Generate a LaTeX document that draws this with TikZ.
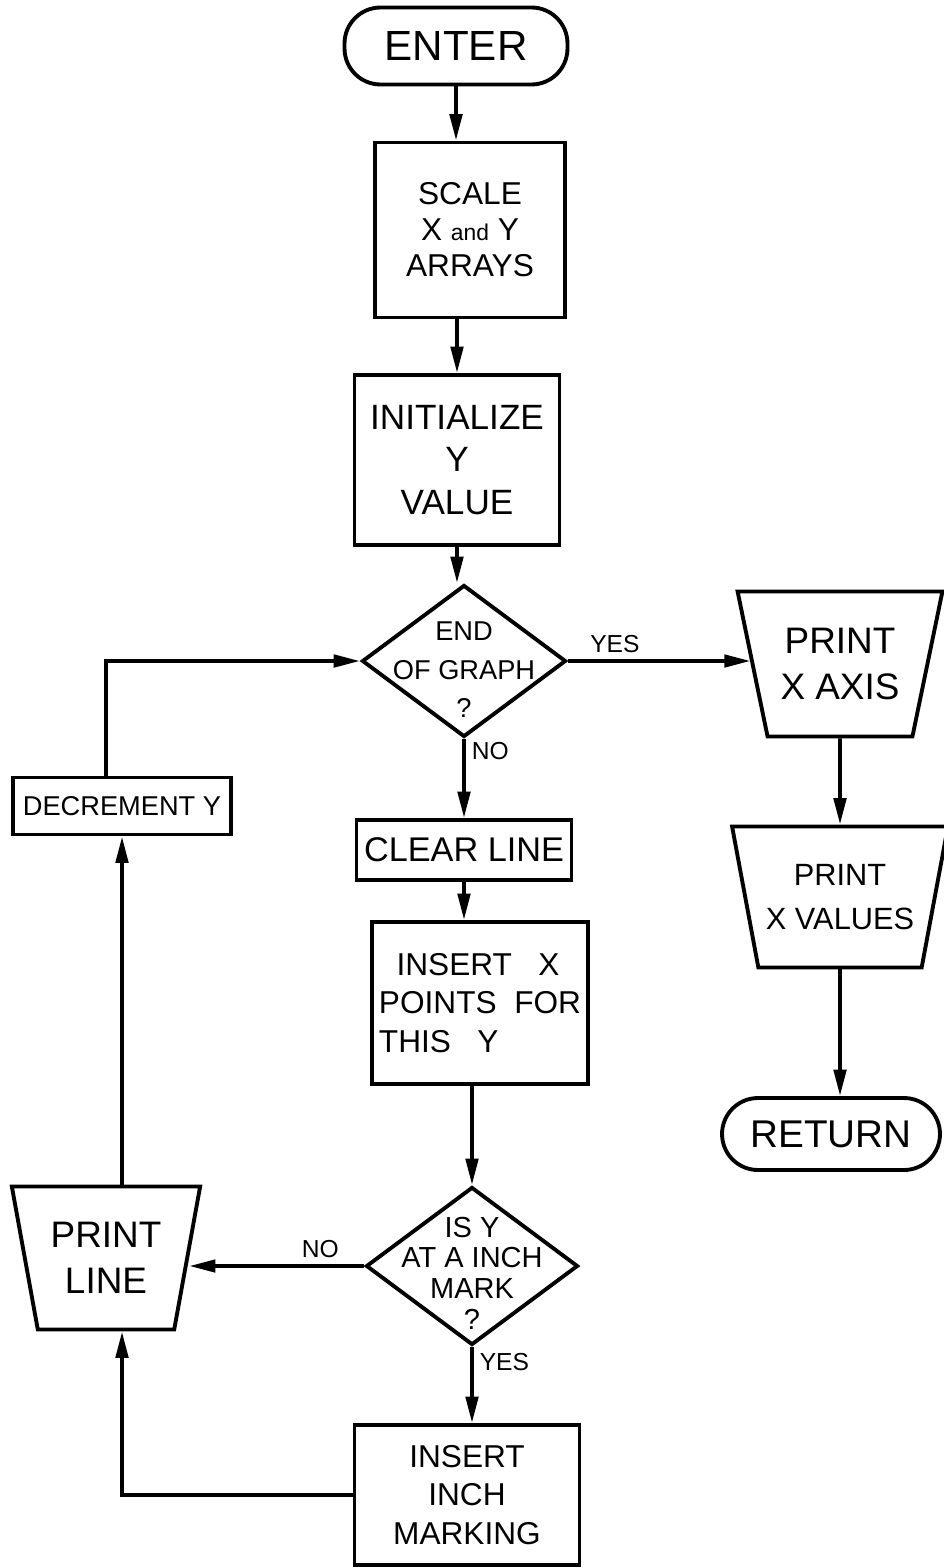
\documentclass[tikz,border=0pt]{standalone}
\usepackage{fontspec}
\setmainfont{Liberation Sans}
\usetikzlibrary{shapes.geometric,arrows.meta}

\begin{document}
\begin{tikzpicture}[x=0.02cm, y=-0.02cm, line width=2.2pt,
  box/.style={draw, rectangle, align=center, inner sep=0pt},
  term/.style={draw, rectangle, rounded corners=0.72cm, inner sep=0pt},
  dec/.style={draw, diamond, inner sep=0pt},
  outp/.style={draw, trapezium, trapezium stretches=true, align=center, inner sep=0pt},
  txt/.style={align=center},
  lbl/.style={font=\fontsize{14}{16}\selectfont},
  arr/.style={-{Triangle[length=15pt,width=7pt]}}]

\useasboundingbox (0,0) rectangle (943,1568);

% Middle column
\node[term, minimum width=4.46cm, minimum height=1.54cm,
      font=\fontsize{24}{28}\selectfont] (enter) at (456,46) {ENTER};          % Start
\node[box, minimum width=3.8cm, minimum height=3.5cm,
      font=\fontsize{18}{20.5}\selectfont] (scale) at (470,230)
      {SCALE\\X {\fontsize{13}{14}\selectfont and} Y\\ARRAYS};                 % Scale
\node[box, minimum width=4.1cm, minimum height=3.4cm,
      font=\fontsize{20}{24}\selectfont] (init) at (457,460)
      {INITIALIZE\\Y\\VALUE};                                                  % Init
\node[dec, minimum width=4.08cm, minimum height=3.04cm,
      label={[txt, yshift=-5pt, font=\fontsize{15.5}{22}\selectfont]center:{END\\OF GRAPH\\?}}]
      (endg) at (464,661) {};                                                  % Test end
\node[box, minimum width=4.3cm, minimum height=1.2cm,
      font=\fontsize{19.5}{22}\selectfont] (clear) at (464,850) {CLEAR LINE};  % Clear
\node[box, minimum width=4.32cm, minimum height=3.24cm, align=left,
      font=\fontsize{18}{22}\selectfont] (insx) at (480,1003)
      {\ \ INSERT~~~X\\POINTS~ FOR\\THIS~~~Y};                                 % Insert X
\node[dec, minimum width=4.24cm, minimum height=3.16cm,
      label={[txt, yshift=-4pt, font=\fontsize{16.5}{17.5}\selectfont]center:{IS Y\\AT A INCH\\MARK\\?}}]
      (inchq) at (472,1266) {};                                                % Test inch
\node[box, minimum width=4.5cm, minimum height=2.8cm,
      font=\fontsize{18}{22}\selectfont] (inch) at (467,1495)
      {INSERT\\INCH\\MARKING};                                                 % Inch mark

% Left column
\node[outp, minimum width=3.8cm, minimum height=2.86cm,
      trapezium left angle=106.5, trapezium right angle=106.5,
      font=\fontsize{21}{26}\selectfont] (pline) at (106,1258) {PRINT\\LINE}; % Print line
\node[box, minimum width=4.36cm, minimum height=1.14cm,
      font=\fontsize{15.5}{18}\selectfont] (decy) at (122,806) {DECREMENT Y};  % Decrement

% Right column
\node[outp, minimum width=4.12cm, minimum height=2.9cm,
      trapezium left angle=109, trapezium right angle=109,
      font=\fontsize{21}{26}\selectfont] (pxaxis) at (840,664) {PRINT\\X AXIS}; % Print axis
\node[outp, minimum width=4.32cm, minimum height=2.82cm,
      trapezium left angle=110, trapezium right angle=110,
      font=\fontsize{17.5}{25}\selectfont] (pxval) at (840,897) {PRINT\\X VALUES}; % Print values
\node[term, minimum width=4.36cm, minimum height=1.44cm,
      font=\fontsize{22}{26}\selectfont] (ret) at (831,1134) {RETURN};         % Return

% Connectors
\draw[arr] (enter.south) -- (enter.south |- scale.north);
\draw[arr] (scale.south -| init) -- (init.north);
\draw[arr] (init.south) -- (init.south |- endg.north);
\draw[arr] (endg.east) -- (endg.east -| pxaxis.west) node[lbl, pos=0.08, above right] {YES};
\draw[arr] (endg.south) -- (endg.south |- clear.north)
      node[lbl, pos=0.15, right] {NO};
\draw[arr] (clear.south) -- (clear.south |- insx.north);
\draw[arr] (insx.south -| inchq) -- (inchq.north);
\draw[arr] (inchq.west) -- (inchq.west -| pline.east) node[lbl, pos=0.1, above left] {NO};
\draw[arr] (inchq.south) -- (inchq.south |- inch.north)
      node[lbl, pos=0.2, right] {YES};
\draw[arr] (inch.west) -| (pline.south -| decy);
\draw[arr] (pline.north -| decy) -- (decy.south);
\draw[arr] (decy.north -| pline) |- (endg.west);
\draw[arr] (pxaxis.south) -- (pxval.north);
\draw[arr] (pxval.south) -- (pxval.south |- ret.north);

\end{tikzpicture}
\end{document}
